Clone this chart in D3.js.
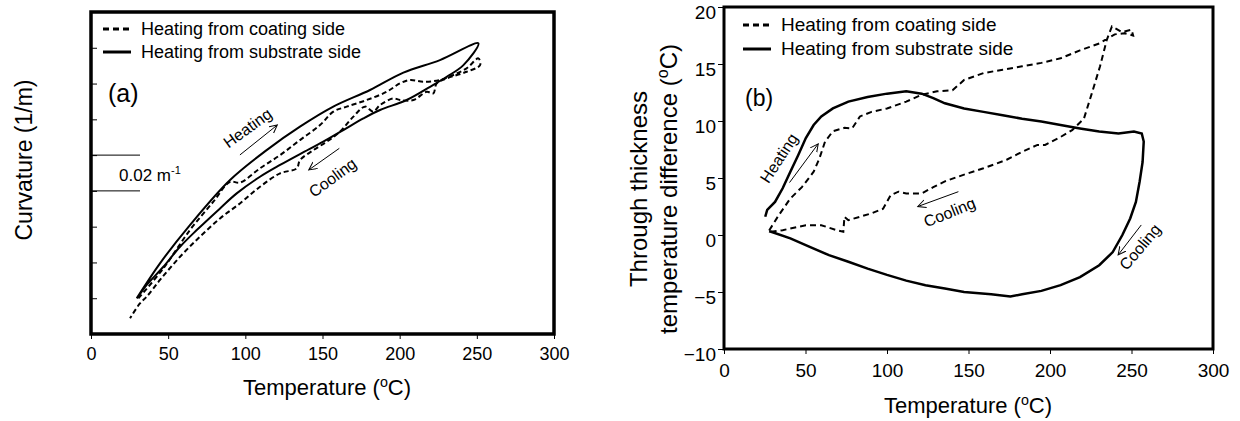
<!DOCTYPE html>
<html>
<head>
  <meta charset="utf-8">
  <title>Curvature and temperature difference</title>
  <style>
    body { margin: 0; background: #fff; }
    text { font-family: "Liberation Sans", Arial, sans-serif; fill: #000; }
  </style>
</head>
<body>
  <script src="https://d3js.org/d3.v7.min.js"></script>
  <script>
    // ---- data ----
    const tempTicks = [0, 50, 100, 150, 200, 250, 300];
    const curvTicks = [0.02, 0.04, 0.06, 0.08, 0.10, 0.12, 0.14, 0.16];
    const diffTicks = [-10, -5, 0, 5, 10, 15, 20];

    // (a) curvature vs temperature, [T, curvature]
    const curvSubstrate = [
      [29.6, 0.0199], [44.7, 0.0395], [64.1, 0.0609], [90.1, 0.0861], [113.8, 0.1028],
      [135.4, 0.1159], [157.0, 0.1271], [180.8, 0.1364], [202.4, 0.1461], [226.1, 0.1531],
      [251.0, 0.1625],
      [241.3, 0.1503], [230.5, 0.1438], [219.7, 0.1382], [204.5, 0.1308], [187.3, 0.1252],
      [176.5, 0.1205], [163.5, 0.1140], [150.5, 0.1075], [135.4, 0.1006], [122.5, 0.0945],
      [109.5, 0.0879], [94.4, 0.0786], [83.6, 0.0702], [68.5, 0.0581], [57.7, 0.0488],
      [46.9, 0.0376], [36.1, 0.0274], [30.7, 0.0209]
    ];
    const curvCoating = [
      [30.7, 0.0199], [46.9, 0.0367], [64.1, 0.0581], [79.3, 0.0740], [90.1, 0.0851],
      [96.5, 0.0846], [109.5, 0.0926], [122.5, 0.1000], [135.4, 0.1084], [148.4, 0.1168],
      [157.0, 0.1243], [165.7, 0.1271], [178.6, 0.1308], [191.6, 0.1354], [200.2, 0.1401],
      [206.7, 0.1420], [215.3, 0.1410], [226.1, 0.1420], [234.8, 0.1448], [243.4, 0.1485],
      [251.0, 0.1541], [252.1, 0.1503],
      [243.4, 0.1466], [230.5, 0.1429], [224.0, 0.1401], [221.8, 0.1345], [217.5, 0.1354],
      [208.9, 0.1308], [200.2, 0.1308], [195.9, 0.1317], [187.3, 0.1280], [182.9, 0.1243],
      [177.5, 0.1271], [170.0, 0.1215], [161.3, 0.1131], [152.7, 0.1075], [144.1, 0.1028],
      [135.4, 0.0972], [133.3, 0.0926], [122.5, 0.0898], [109.5, 0.0823], [96.5, 0.0730],
      [83.6, 0.0646], [70.6, 0.0544], [57.7, 0.0432], [44.7, 0.0302], [36.1, 0.0209],
      [31.7, 0.0171], [25.3, 0.0088]
    ];

    // (b) through thickness temperature difference, [T, dT]
    const diffSubstrate = [
      [25.3, 1.6], [26.5, 2.2], [31.3, 2.9], [36, 4.1], [40.7, 5.55], [45.5, 7.0], [50.2, 8.5],
      [55, 9.65], [59.7, 10.4], [66.8, 11.1], [76.3, 11.7], [88.1, 12.1], [100, 12.4],
      [111.8, 12.6], [121.3, 12.4], [128.4, 12.0], [135.5, 11.55], [147.3, 11.1], [159.2, 10.8],
      [171, 10.5], [182.9, 10.2], [194.7, 9.95], [206.5, 9.65], [218.4, 9.35], [230.2, 9.07],
      [242, 8.9], [251.5, 9.07], [256.3, 8.9], [257.5, 8.2], [256.8, 6.4], [255, 4.7],
      [252.7, 2.9], [249.2, 1.45], [244.4, 0], [238.5, -1.5], [230.2, -2.65], [218.4, -3.7],
      [206.5, -4.4], [194.7, -4.9], [182.9, -5.2], [175.7, -5.4], [163.9, -5.2], [147.3, -5.0],
      [135.5, -4.7], [123.6, -4.4], [111.8, -4.0], [100, -3.5], [88.1, -2.95], [76.3, -2.35],
      [64.4, -1.77], [52.6, -1.04], [40.7, -0.3], [28.9, 0.28], [27.7, 0.33]
    ];
    const diffCoating = [
      [27.7, 0.4], [33.6, 1.74], [40.7, 3.2], [47.8, 4.2], [55, 5.55], [58.5, 6.7], [62, 8.2],
      [66.8, 9.1], [73.9, 9.4], [78.6, 9.35], [83.4, 10.4], [90.5, 10.8], [100, 11.1],
      [111.8, 11.7], [121.3, 12.3], [130.7, 12.6], [140.2, 12.7], [147.3, 13.6], [159.2, 14.2],
      [171, 14.5], [182.9, 14.8], [194.7, 15.1], [206.5, 15.5], [218.4, 16.2], [230.2, 16.8],
      [239.7, 17.6], [245.6, 17.7], [251, 17.5], [250, 18.0], [244, 17.8], [238, 18.3],
      [234.8, 17.1], [230.7, 14.8], [225.6, 12.4], [220.8, 10.2], [213.6, 9.2], [206.5, 8.6],
      [197, 7.9], [192.3, 7.9], [182.9, 7.3], [173.4, 6.6], [159.2, 5.85], [147.3, 5.3],
      [135.5, 4.7], [128.4, 4.2], [121.3, 3.65], [111.8, 3.65], [107, 3.8], [102.3, 3.5],
      [97.6, 2.3], [90.5, 1.9], [83.4, 1.6], [76.3, 1.3], [73.9, 1.6], [73.2, 0.28],
      [69.2, 0.42], [59.7, 0.86], [50.2, 0.86], [40.7, 0.57], [36, 0.42], [28.9, 0.28]
    ];

    // annotations: arrow [from, to] and label centre, in data units
    const notesA = [
      { text: 'Heating', at: [101.4, 0.1152], rot: -36, from: [96.5, 0.1001], to: [120.7, 0.1168] },
      { text: 'Cooling', at: [156.5, 0.0875], rot: -36, from: [160.9, 0.1038], to: [141.1, 0.0917] }
    ];
    const notesB = [
      { text: 'Heating', at: [33.7, 6.75], rot: -57, from: [40.2, 4.6], to: [57.8, 8.0] },
      { text: 'Cooling', at: [138.4, 2.0], rot: -22, from: [143.8, 3.8], to: [118.9, 2.5] },
      { text: 'Cooling', at: [255.2, -1.05], rot: -50, from: [256, 0.88], to: [241.8, -1.75] }
    ];

    const width = 1240;
    const height = 421;

    const svg = d3.select('body')
      .append('svg')
      .attr('width', width)
      .attr('height', height);

    svg.append('defs')
      .append('marker')
      .attr('id', 'arrow')
      .attr('markerUnits', 'userSpaceOnUse')
      .attr('markerWidth', 10)
      .attr('markerHeight', 10)
      .attr('refX', 8)
      .attr('refY', 4)
      .attr('orient', 'auto')
      .append('path')
      .attr('d', 'M0,0 L8,4 L0,8')
      .attr('fill', 'none')
      .attr('stroke', '#000')
      .attr('stroke-width', 1);

    // scales
    const xA = d3.scaleLinear().domain([0, 300]).range([91, 554]);
    const yA = d3.scaleLinear().domain([0, 0.18]).range([334, 12]);
    const xB = d3.scaleLinear().domain([0, 300]).range([724, 1213]);
    const yB = d3.scaleLinear().domain([-10, 20]).range([349, 7]);

    const tempLabel = (sel, size) => {
      sel.text('Temperature (');
      sel.append('tspan').attr('font-size', size * 0.65).attr('dy', -size * 0.38).text('o');
      sel.append('tspan').attr('dy', size * 0.38).text('C)');
    };

    const drawNotes = (g, notes, x, y) => {
      notes.forEach((n) => {
        g.append('line')
          .attr('x1', x(n.from[0])).attr('y1', y(n.from[1]))
          .attr('x2', x(n.to[0])).attr('y2', y(n.to[1]))
          .attr('stroke', '#000')
          .attr('stroke-width', 1)
          .attr('marker-end', 'url(#arrow)');
        g.append('text')
          .attr('transform', `translate(${x(n.at[0])},${y(n.at[1])}) rotate(${n.rot})`)
          .attr('text-anchor', 'middle')
          .attr('dy', '0.35em')
          .attr('font-size', 16)
          .text(n.text);
      });
    };

    const legend = (g, x0, y0, gap, size) => {
      [['6,4', 'Heating from coating side'], [null, 'Heating from substrate side']]
        .forEach(([dash, label], i) => {
          const y = y0 + i * gap;
          g.append('line')
            .attr('x1', x0).attr('x2', x0 + 28)
            .attr('y1', y).attr('y2', y)
            .attr('stroke', '#000')
            .attr('stroke-width', 3)
            .attr('stroke-dasharray', dash);
          g.append('text')
            .attr('x', x0 + 38)
            .attr('y', y + 5.5)
            .attr('font-size', size)
            .text(label);
        });
    };

    // ---------------- panel (a) ----------------
    const ga = svg.append('g');

    const lineA = d3.line()
      .x((d) => xA(d[0]))
      .y((d) => yA(d[1]))
      .curve(d3.curveCatmullRom.alpha(0.5));

    ga.append('path')
      .datum(curvSubstrate)
      .attr('d', lineA)
      .attr('fill', 'none')
      .attr('stroke', '#000')
      .attr('stroke-width', 2);

    ga.append('path')
      .datum(curvCoating)
      .attr('d', lineA)
      .attr('fill', 'none')
      .attr('stroke', '#000')
      .attr('stroke-width', 2)
      .attr('stroke-dasharray', '5,3');

    ga.append('g')
      .attr('transform', `translate(0,${yA(0)})`)
      .call(d3.axisBottom(xA).tickValues(tempTicks).tickSize(5).tickSizeOuter(0).tickPadding(8))
      .call((g) => g.select('.domain').remove())
      .call((g) => g.selectAll('text').attr('font-size', 18).attr('fill', '#000'));

    ga.append('g')
      .attr('transform', `translate(${xA(0)},0)`)
      .call(d3.axisRight(yA).tickValues(curvTicks).tickSize(6).tickFormat(''))
      .call((g) => g.select('.domain').remove());

    // scale bar: 0.02 m-1 between two long ticks
    ga.selectAll('.bar')
      .data([0.08, 0.10])
      .join('line')
      .attr('x1', xA(0)).attr('x2', xA(0) + 49)
      .attr('y1', (d) => yA(d)).attr('y2', (d) => yA(d))
      .attr('stroke', '#000')
      .attr('stroke-width', 1);

    const bar = ga.append('text')
      .attr('x', xA(0) + 28)
      .attr('y', yA(0.09) + 8)
      .attr('font-size', 17)
      .text('0.02 m');
    bar.append('tspan').attr('font-size', 11).attr('dy', -7).text('-1');

    ga.append('rect')
      .attr('x', xA(0)).attr('y', yA(0.18))
      .attr('width', xA(300) - xA(0))
      .attr('height', yA(0) - yA(0.18))
      .attr('fill', 'none')
      .attr('stroke', '#000')
      .attr('stroke-width', 3.5);

    legend(ga, 103, 29, 23, 18);

    ga.append('text')
      .attr('x', 108).attr('y', 102)
      .attr('font-size', 25)
      .text('(a)');

    drawNotes(ga, notesA, xA, yA);

    ga.append('text')
      .attr('x', 327).attr('y', 395)
      .attr('text-anchor', 'middle')
      .attr('font-size', 22)
      .call(tempLabel, 22);

    ga.append('text')
      .attr('transform', 'translate(32,160) rotate(-90)')
      .attr('text-anchor', 'middle')
      .attr('font-size', 23)
      .text('Curvature (1/m)');

    // ---------------- panel (b) ----------------
    const gb = svg.append('g');

    const lineB = d3.line()
      .x((d) => xB(d[0]))
      .y((d) => yB(d[1]));

    gb.append('path')
      .datum(diffSubstrate)
      .attr('d', lineB)
      .attr('fill', 'none')
      .attr('stroke', '#000')
      .attr('stroke-width', 2.5);

    gb.append('path')
      .datum(diffCoating)
      .attr('d', lineB)
      .attr('fill', 'none')
      .attr('stroke', '#000')
      .attr('stroke-width', 2)
      .attr('stroke-dasharray', '6,4');

    gb.append('g')
      .attr('transform', `translate(0,${yB(-10)})`)
      .call(d3.axisBottom(xB).tickValues(tempTicks).tickSize(5).tickSizeOuter(0).tickPadding(10))
      .call((g) => g.select('.domain').remove())
      .call((g) => g.selectAll('text').attr('font-size', 19).attr('fill', '#000'));

    gb.append('g')
      .attr('transform', `translate(${xB(0)},0)`)
      .call(d3.axisLeft(yB).tickValues(diffTicks).tickSize(6).tickSizeOuter(0).tickPadding(2))
      .call((g) => g.select('.domain').remove())
      .call((g) => g.selectAll('text')
        .attr('font-size', 19)
        .attr('fill', '#000')
        .attr('dy', '0.6em'));

    gb.append('rect')
      .attr('x', xB(0)).attr('y', yB(20))
      .attr('width', xB(300) - xB(0))
      .attr('height', yB(-10) - yB(20))
      .attr('fill', 'none')
      .attr('stroke', '#000')
      .attr('stroke-width', 3);

    legend(gb, 743, 25, 24, 19);

    gb.append('text')
      .attr('x', 745).attr('y', 106)
      .attr('font-size', 23)
      .text('(b)');

    drawNotes(gb, notesB, xB, yB);

    gb.append('text')
      .attr('x', 968).attr('y', 413)
      .attr('text-anchor', 'middle')
      .attr('font-size', 22)
      .call(tempLabel, 22);

    const yt = gb.append('text')
      .attr('transform', 'translate(0,189) rotate(-90)')
      .attr('text-anchor', 'middle')
      .attr('font-size', 24);
    yt.append('tspan').attr('x', 0).attr('y', 647).text('Through thickness');
    yt.append('tspan').attr('x', 0).attr('y', 677).text('temperature difference (');
    yt.append('tspan').attr('font-size', 16).attr('dy', -9).text('o');
    yt.append('tspan').attr('dy', 9).text('C)');
  </script>
</body>
</html>
